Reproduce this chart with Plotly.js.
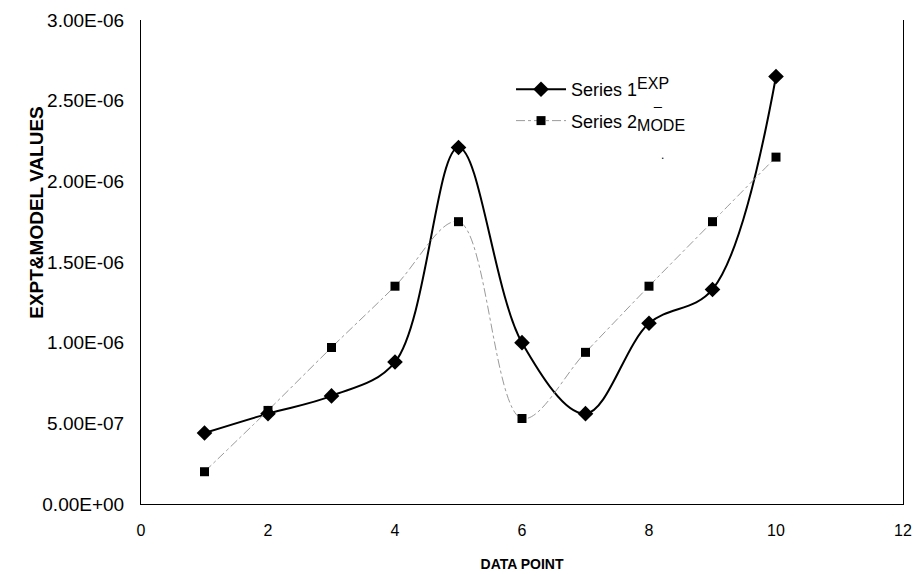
<!DOCTYPE html>
<html>
<head>
<meta charset="utf-8">
<script src="https://cdn.plot.ly/plotly-3.0.1.min.js"></script>
<style>html,body{margin:0;padding:0;background:#fff;}#chart{width:915px;height:584px;}</style>
</head>
<body>
<div id="chart"></div>
<script>
const dataPoints = [1, 2, 3, 4, 5, 6, 7, 8, 9, 10];
const series1Exp = [0.44e-6, 0.56e-6, 0.67e-6, 0.88e-6, 2.21e-6, 1.00e-6, 0.56e-6, 1.12e-6, 1.33e-6, 2.65e-6];
const series2Model = [0.20e-6, 0.58e-6, 0.97e-6, 1.35e-6, 1.75e-6, 0.53e-6, 0.94e-6, 1.35e-6, 1.75e-6, 2.15e-6];
const yTickVals = [0, 0.5e-6, 1.0e-6, 1.5e-6, 2.0e-6, 2.5e-6, 3.0e-6];
const yTickText = ['0.00E+00', '5.00E-07', '1.00E-06', '1.50E-06', '2.00E-06', '2.50E-06', '3.00E-06'];
const xTickVals = [0, 2, 4, 6, 8, 10, 12];

const font = 'Liberation Sans, Arial, sans-serif';

const traces = [
  {
    x: dataPoints, y: series1Exp, type: 'scatter', mode: 'lines+markers',
    name: 'Series 1<sup><span style="font-size:16px">EXP</span></sup>',
    legendgroup: 'a',
    line: {color: '#000', width: 2, shape: 'spline', smoothing: 1},
    marker: {symbol: 'diamond', size: 12, color: '#000'}
  },
  {
    x: dataPoints, y: series2Model, type: 'scatter', mode: 'lines+markers',
    name: 'Series 2<sub><span style="font-size:16px">MODE</span></sub>',
    legendgroup: 'b',
    line: {color: '#9a9a9a', width: 1, dash: 'dashdot', shape: 'spline', smoothing: 1},
    marker: {symbol: 'square', size: 9, color: '#000'}
  }
];

const layout = {
  width: 915, height: 584,
  margin: {l: 141, r: 12, t: 20, b: 80},
  paper_bgcolor: '#fff', plot_bgcolor: '#fff',
  font: {family: font, size: 16, color: '#000'},
  showlegend: true,
  legend: {x: 0.4856, y: 0.8946, xanchor: 'left', yanchor: 'top', bgcolor: 'rgba(0,0,0,0)',
           font: {size: 18}, traceorder: 'grouped', tracegroupgap: 5, itemwidth: 50},
  xaxis: {
    range: [0, 12], tickvals: xTickVals, showgrid: false, zeroline: false,
    showline: true, linecolor: '#000', linewidth: 1, ticks: '', ticklabelstandoff: 12,
    tickfont: {size: 16},
    title: {text: '<b>DATA POINT</b>', font: {size: 14}, standoff: 20}
  },
  yaxis: {
    range: [0, 3.0e-6], tickvals: yTickVals, ticktext: yTickText, showgrid: false, zeroline: false,
    showline: true, mirror: true, linecolor: '#000', linewidth: 1, ticks: '', ticklabelstandoff: 12,
    tickfont: {size: 19}
  },
  annotations: [
    {text: '<b>EXPT&amp;MODEL VALUES</b>', textangle: -90, xref: 'paper', yref: 'paper',
     x: -0.137, y: 0.603, xanchor: 'center', yanchor: 'middle', showarrow: false, font: {size: 19}},
    {text: '_', xref: 'paper', yref: 'paper', x: (657 - 141) / 762, y: (504 - 100) / 484,
     xanchor: 'center', yanchor: 'middle', showarrow: false, font: {size: 14}},
    {text: '.', xref: 'paper', yref: 'paper', x: (662 - 141) / 762, y: (504 - 155) / 484,
     xanchor: 'center', yanchor: 'middle', showarrow: false, font: {size: 12}}
  ]
};

Plotly.newPlot('chart', traces, layout, {displayModeBar: false, staticPlot: true});
</script>
</body>
</html>
